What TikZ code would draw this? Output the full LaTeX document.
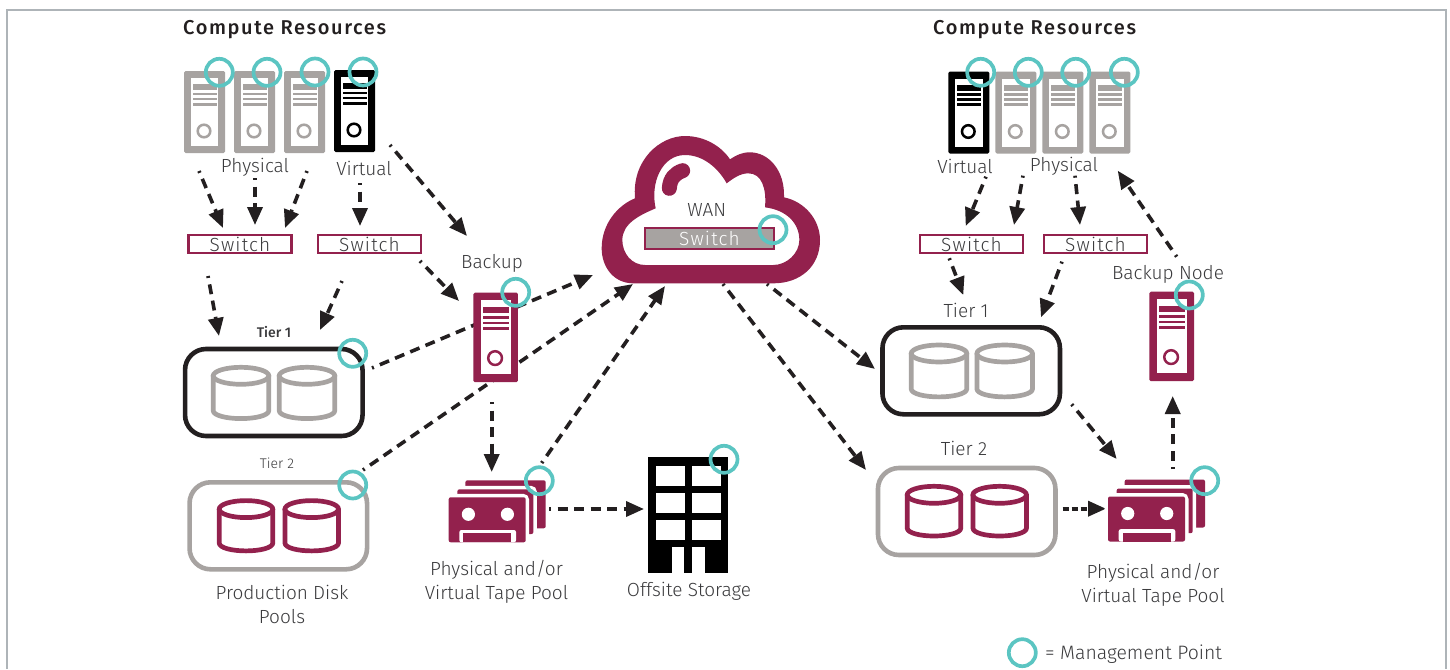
\documentclass[tikz,border=0pt]{standalone}
\usepackage{fontspec}
\setmainfont{Fira Sans Light}
\newfontfamily\boldf{Fira Sans Medium}
\usetikzlibrary{arrows.meta}
\definecolor{mar}{HTML}{93214D}
\definecolor{gry}{HTML}{A7A3A1}
\definecolor{blk}{HTML}{231F20}
\definecolor{teal}{HTML}{5BC5C2}
\definecolor{txt}{HTML}{3A3A3C}
\definecolor{frm}{HTML}{AEB4B8}
\tikzset{
  x=1pt,y=-1pt,
  mgmt/.style={draw=teal,line width=3.7pt,circle,minimum size=27pt,inner sep=0pt},
  lab/.style={font=\fontsize{19}{21}\selectfont,text=txt,inner sep=0pt,align=center},
  small/.style={font=\fontsize{14}{16}\selectfont,text=txt,inner sep=0pt},
  head/.style={font=\boldf\fontsize{20}{22}\selectfont\addfontfeature{LetterSpace=8},text=blk,inner sep=0pt},
  swt/.style={draw=mar,line width=2.2pt,minimum width=103pt,minimum height=18.5pt,inner sep=0pt,font=\fontsize{19}{21}\selectfont\addfontfeature{LetterSpace=6},text=txt},
  tierbox/.style={line width=4.6pt,rounded corners=21pt,minimum width=177.5pt,minimum height=87pt,inner sep=0pt},
  conn/.style={draw=blk,line width=3.6pt,dash pattern=on 10pt off 6.5pt,dash phase=8pt,-{Triangle[length=18pt,width=15pt]}},
}
% #1 left #2 top #3 colour #4 scale #5 name
\newcommand{\srv}[5]{%
\begin{scope}[shift={(#1,#2)},scale=#4]
\fill[#3,rounded corners=1.5pt] (0,0) rectangle (41,82);
\fill[white] (6.7,7) rectangle (34.3,75);
\fill[#3] (8.5,13) rectangle (32.5,19);
\fill[#3] (8.5,21.5) rectangle (32.5,24);
\fill[#3] (8.5,26.5) rectangle (32.5,29);
\fill[#3] (8.5,31.5) rectangle (32.5,34.5);
\draw[#3,line width=2.5pt] (20,60) circle (6.3);
\coordinate (#5) at (20.5,41);
\end{scope}}
% #1 cx #2 top #3 colour #4 name #5 rx #6 bottom
\newcommand{\cyl}[6]{%
\begin{scope}[shift={(#1,#2)}]
\draw[#3,line width=4.7pt] (0,10.8) ellipse (#5 and 8.5);
\draw[#3,line width=4.7pt,line join=round] (-#5,10.8) -- (-#5,#6-8) .. controls (-#5,#6-3) and (-14,#6) .. (0,#6) .. controls (14,#6) and (#5,#6-3) .. (#5,#6-8) -- (#5,10.8);
\coordinate (#4) at (0,28);
\end{scope}}
% #1 left #2 top of front card #3 name
\newcommand{\tape}[3]{%
\begin{scope}[shift={(#1,#2)}]
\fill[mar,rounded corners=2pt] (16.7,-17) rectangle (97,31);
\draw[white,line width=7pt,rounded corners=3pt] (8.7,-8) rectangle (84.7,36.7);
\fill[mar,rounded corners=2pt] (8.7,-8) rectangle (84.7,36.7);
\draw[white,line width=7pt,rounded corners=3pt] (0,0) rectangle (77,45);
\fill[mar,rounded corners=2pt] (0,0) rectangle (77,45);
\fill[white] (19.7,17) circle (6.6);
\fill[white] (58.7,17) circle (6.6);
\fill[white,rounded corners=2pt] (10.7,32.7) rectangle (67.3,45);
\fill[mar] (14.7,36) rectangle (62.7,45);
\coordinate (#3) at (38,22);
\end{scope}}
\begin{document}
\begin{tikzpicture}
\useasboundingbox (0,0) rectangle (1450,669);
\fill[white] (0,0) rectangle (1450,669);
\draw[frm,line width=1.8pt] (7,669) -- (7,9.8) -- (1445.8,9.8) -- (1445.8,669);

% headings
\node[head,anchor=west] (hL) at (183,30) {Compute Resources};
\node[head,anchor=west] (hR) at (933,30) {Compute Resources};

% connector ends
\foreach \n/\x/\y in {
 a1/199/171,a2/223/228,b1/255/178,b2/255/225,c1/307/171,c2/285/228,d1/360/183,d2/360/226,
 e1/390/145,e2/467/236,f1/420/261,f2/459/301,g1/208/276,g2/219/336,h1/342/281,h2/320/330,
 i1/372/368,i2/593/275,j1/363/470,j2/633/284,k1/491.7/402,k2/491.7/472,l1/541.7/463,l2/665/286,
 m1/549/509,m2/644/509,n1/723/284,n2/866/470,o1/767/284,o2/875/369,
 p1/986/176.7,p2/965.7/226,q1/1023/175.7,q2/1014/225,r1/1075/175.7,r2/1080/225,
 s1/949.3/258.3,s2/963.3/295,t1/1062/261.7,t2/1041/317.3,u1/1071.7/404.3,u2/1116.7/459,
 v1/1062.7/508.7,v2/1106/508.7,w1/1172.7/469,w2/1172.7/396,y1/1176.7/256.7,y2/1117.7/170.7}
 {\coordinate (\n) at (\x,\y);}

% connectors
\foreach \s/\e in {a1/a2,b1/b2,c1/c2,d1/d2,e1/e2,f1/f2,g1/g2,h1/h2,i1/i2,j1/j2,k1/k2,l1/l2,m1/m2,n1/n2,o1/o2,p1/p2,q1/q2,r1/r2,s1/s2,t1/t2,u1/u2,y1/y2,w1/w2}
 {\draw[conn] (\s) -- (\e);}
\draw[conn,dash pattern=on 6pt off 3pt,dash phase=0pt] (v1) -- (v2);

% servers left
\srv{184}{71}{gry}{1}{sL1}
\srv{234}{71}{gry}{1}{sL2}
\srv{284}{71}{gry}{1}{sL3}
\srv{334}{70}{black}{1}{sL4}
% servers right
\srv{948.3}{71.5}{black}{1}{sR1}
\srv{995.3}{71.5}{gry}{1}{sR2}
\srv{1042.3}{71.5}{gry}{1}{sR3}
\srv{1089.3}{71.5}{gry}{1}{sR4}
% backup servers
\srv{473.3}{292.7}{mar}{1.09}{bkL}
\srv{1149.3}{291.7}{mar}{1.09}{bkR}

% switches
\node[swt] (swL1) at (240,244) {Switch};
\node[swt] (swL2) at (369.5,244) {Switch};
\node[swt] (swR1) at (971.5,244) {Switch};
\node[swt] (swR2) at (1095.5,244) {Switch};

% tiers
\node[tierbox,draw=blk] (tL1) at (273.8,392.5) {};
\node[tierbox,draw=gry] (tL2) at (278.3,525.8) {};
\node[tierbox,draw=blk] (tR1) at (971.2,370.8) {};
\node[tierbox,draw=gry] (tR2) at (966.7,511.5) {};
\cyl{241}{365}{gry}{c1L}{27.8}{53.6}
\cyl{307}{365}{gry}{c2L}{27.8}{53.6}
\cyl{246}{498.3}{mar}{c3L}{26.8}{52.6}
\cyl{311.7}{498.3}{mar}{c4L}{26.8}{52.6}
\cyl{939}{342.7}{gry}{c1R}{27.8}{54.2}
\cyl{1004.7}{342.7}{gry}{c2R}{27.8}{54.2}
\cyl{934}{484}{mar}{c3R}{26.8}{52}
\cyl{999.7}{484}{mar}{c4R}{26.8}{52}

% tapes
\tape{448.7}{497.3}{tpL}
\tape{1108}{496.5}{tpR}

% office
\fill[black] (648.3,457.3) rectangle (728.3,572.7);
\foreach \wy in {466,493.3,520.3}{
 \fill[white] (656,\wy) rectangle (685,\wy+20);
 \fill[white] (691.7,\wy) rectangle (720.7,\wy+20);}
\fill[white] (671.7,546.7) rectangle (684.3,572.7);
\fill[white] (692.3,546.7) rectangle (705,572.7);
\coordinate (office) at (688,515);

% cloud
\begin{scope}[shift={(590,120)},scale=1/3]
\fill[mar,even odd rule]
 (130,490) .. controls (70,490) and (35,440) .. (35,385)
 .. controls (35,310) and (85,255) .. (135,235)
 .. controls (125,120) and (210,48) .. (285,48)
 .. controls (345,48) and (395,80) .. (420,118)
 .. controls (440,105) and (455,97) .. (480,97)
 .. controls (535,97) and (585,150) .. (582,232)
 .. controls (645,245) and (690,300) .. (690,360)
 .. controls (690,440) and (630,490) .. (550,490) -- cycle
 (165,435) .. controls (125,435) and (97,400) .. (97,360)
 .. controls (97,310) and (150,285) .. (197,265)
 .. controls (180,190) and (215,105) .. (285,105)
 .. controls (340,105) and (385,145) .. (410,190)
 .. controls (430,175) and (450,160) .. (475,160)
 .. controls (515,160) and (530,205) .. (525,262)
 .. controls (590,270) and (628,310) .. (628,360)
 .. controls (628,400) and (590,435) .. (550,435) -- cycle;
\draw[mar,line width=15pt,line cap=round] (238,205) .. controls (240,175) and (255,160) .. (278,152);
\end{scope}
\node[lab] (wan) at (706.7,209.5) {WAN};
\node[draw=mar,fill=gry,line width=2pt,minimum width=129.5pt,minimum height=20.5pt,inner sep=0pt,text=white,font=\fontsize{19}{21}\selectfont\addfontfeature{LetterSpace=6}] (swW) at (709.5,238.5) {Switch};

% labels
\node[lab] (l1) at (255,167.3) {Physical};
\node[lab] (l2) at (364,168.5) {Virtual};
\node[lab] (l3) at (492,263) {Backup};
\node[small,font=\boldf\fontsize{14}{16}\selectfont] (l4) at (274,332) {Tier 1};
\node[small] (l5) at (277,463) {Tier 2};
\node[lab,align=center] (l6) at (282,604) {Production Disk\\[3pt]Pools};
\node[lab] (l7) at (496.5,582) {Physical and/or\\[3pt]Virtual Tape Pool};
\node[lab] (l8) at (689,591) {Offsite Storage};
\node[lab] (l9) at (965,166) {Virtual};
\node[lab] (l10) at (1064,166.5) {Physical};
\node[lab] (l11) at (966,310) {Tier 1};
\node[lab] (l12) at (964,448) {Tier 2};
\node[lab] (l13) at (1168,274.5) {Backup Node};
\node[lab] (l14) at (1153,585) {Physical and/or\\[3pt]Virtual Tape Pool};
\node[lab,anchor=west,font=\fontsize{19.4}{21}\selectfont] (l15) at (1045,654) {= Management Point};

% management points
\foreach \n/\x/\y in {m1/219.3/72.3,m2/267/72.3,m3/315/72,m4/363/72,m5/515.7/292.3,m6/352.7/353.3,m7/352.7/485,m8/539.3/480.7,m9/724/459.3,m10/773/229.7,m11/980.7/72.3,m12/1028.3/72.3,m13/1075.7/72.3,m14/1124.3/72.3,m15/1189.3/295,m16/1204.7/480.7,m17/1022.3/652.7}
 {\node[mgmt] (mp\n) at (\x,\y) {};}
\end{tikzpicture}
\end{document}
